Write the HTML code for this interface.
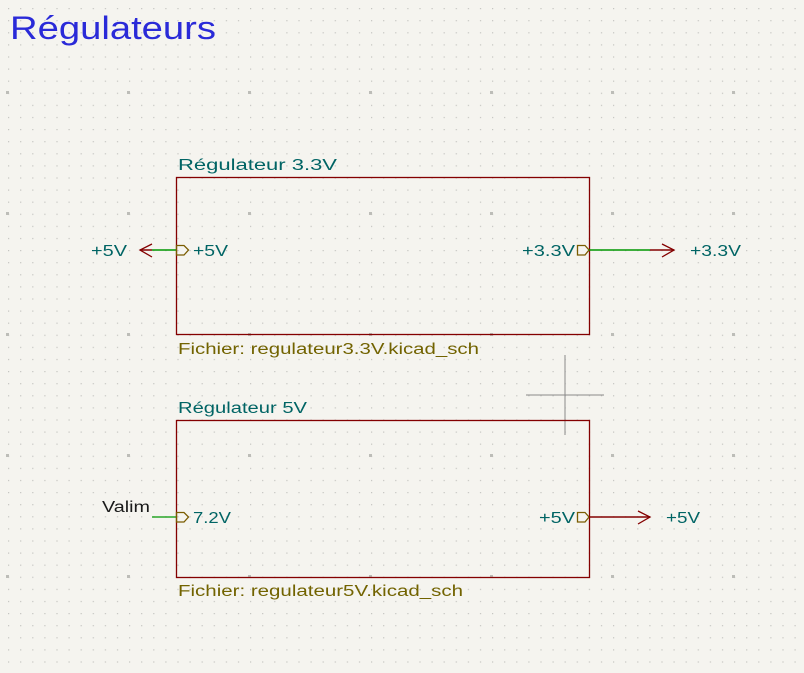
<!DOCTYPE html>
<html><head><meta charset="utf-8"><style>
html,body{margin:0;padding:0;background:#f5f4ef}
svg{display:block}
text{font-family:"Liberation Sans","DejaVu Sans",sans-serif}
</style></head><body>
<svg width="804" height="673" viewBox="0 0 804 673" xmlns="http://www.w3.org/2000/svg">
<defs>
<pattern id="g" x="8" y="8" width="12.1" height="12.1" patternUnits="userSpaceOnUse">
<rect x="0" y="0" width="1.2" height="1.2" fill="#c4c4c0"/>
</pattern>
</defs>
<rect width="804" height="673" fill="#f5f4ef"/>
<rect width="804" height="673" fill="url(#g)"/>
<g fill="#bdbdb8">
<rect x="127" y="212" width="3" height="3"/><rect x="248" y="212" width="3" height="3"/><rect x="369" y="212" width="3" height="3"/><rect x="490" y="212" width="3" height="3"/><rect x="611" y="212" width="3" height="3"/><rect x="732" y="212" width="3" height="3"/><rect x="6" y="212" width="3" height="3"/>
<rect x="127" y="454" width="3" height="3"/><rect x="248" y="454" width="3" height="3"/><rect x="369" y="454" width="3" height="3"/><rect x="490" y="454" width="3" height="3"/><rect x="611" y="454" width="3" height="3"/><rect x="732" y="454" width="3" height="3"/><rect x="6" y="454" width="3" height="3"/>
<rect x="127" y="91" width="3" height="3"/><rect x="248" y="91" width="3" height="3"/><rect x="369" y="91" width="3" height="3"/><rect x="490" y="91" width="3" height="3"/><rect x="611" y="91" width="3" height="3"/><rect x="732" y="91" width="3" height="3"/><rect x="6" y="91" width="3" height="3"/>
<rect x="127" y="333" width="3" height="3"/><rect x="248" y="333" width="3" height="3"/><rect x="369" y="333" width="3" height="3"/><rect x="490" y="333" width="3" height="3"/><rect x="611" y="333" width="3" height="3"/><rect x="732" y="333" width="3" height="3"/><rect x="6" y="333" width="3" height="3"/>
<rect x="127" y="575" width="3" height="3"/><rect x="248" y="575" width="3" height="3"/><rect x="369" y="575" width="3" height="3"/><rect x="490" y="575" width="3" height="3"/><rect x="611" y="575" width="3" height="3"/><rect x="732" y="575" width="3" height="3"/><rect x="6" y="575" width="3" height="3"/>
</g>

<text x="10" y="39" font-size="32" fill="#2a2ad8" textLength="206" lengthAdjust="spacingAndGlyphs">Régulateurs</text>

<!-- Sheet 1 -->
<text x="178" y="170" font-size="15.5" fill="#006464" textLength="159" lengthAdjust="spacingAndGlyphs">Régulateur 3.3V</text>
<rect x="176.5" y="177.5" width="413" height="157" fill="none" stroke="#840000" stroke-width="1.3"/>
<text x="178" y="354" font-size="15.5" fill="#726300" textLength="301" lengthAdjust="spacingAndGlyphs">Fichier: regulateur3.3V.kicad_sch</text>

<line x1="152" y1="250" x2="176" y2="250" stroke="#009600" stroke-width="1.5"/>
<line x1="140" y1="250" x2="152" y2="250" stroke="#840000" stroke-width="1.5"/>
<polyline points="152,244 140,250 152,257" fill="none" stroke="#840000" stroke-width="1.3"/>
<text x="91" y="256" font-size="15.5" fill="#006464" textLength="36" lengthAdjust="spacingAndGlyphs">+5V</text>
<polygon points="176.5,245.5 184,245.5 188.5,250 184,255 176.5,255" fill="none" stroke="#7a5c00" stroke-width="1.3"/>
<text x="193" y="256" font-size="15.5" fill="#006464" textLength="35" lengthAdjust="spacingAndGlyphs">+5V</text>

<polygon points="577.5,245.5 585,245.5 589,250 585,255 577.5,255" fill="none" stroke="#7a5c00" stroke-width="1.3"/>
<text x="522" y="256" font-size="15.5" fill="#006464" textLength="53" lengthAdjust="spacingAndGlyphs">+3.3V</text>
<line x1="589" y1="250" x2="650" y2="250" stroke="#009600" stroke-width="1.5"/>
<line x1="650" y1="250" x2="674" y2="250" stroke="#840000" stroke-width="1.5"/>
<polyline points="662,244 674,250 662,257" fill="none" stroke="#840000" stroke-width="1.3"/>
<text x="690" y="256" font-size="15.5" fill="#006464" textLength="51" lengthAdjust="spacingAndGlyphs">+3.3V</text>

<!-- cross -->
<line x1="526" y1="395" x2="604" y2="395" stroke="#8a8a8a" stroke-width="1"/>
<line x1="565" y1="355" x2="565" y2="435" stroke="#8a8a8a" stroke-width="1"/>

<!-- Sheet 2 -->
<text x="178" y="413" font-size="15.5" fill="#006464" textLength="129" lengthAdjust="spacingAndGlyphs">Régulateur 5V</text>
<rect x="176.5" y="420.5" width="413" height="157" fill="none" stroke="#840000" stroke-width="1.3"/>
<text x="178" y="596" font-size="15.5" fill="#726300" textLength="285" lengthAdjust="spacingAndGlyphs">Fichier: regulateur5V.kicad_sch</text>

<text x="102" y="512" font-size="15.5" fill="#1a1a1a" textLength="48" lengthAdjust="spacingAndGlyphs">Valim</text>
<line x1="152" y1="517" x2="176" y2="517" stroke="#009600" stroke-width="1.3"/>
<polygon points="176.5,512.5 184,512.5 188.5,517 184,522 176.5,522" fill="none" stroke="#7a5c00" stroke-width="1.3"/>
<text x="193" y="523" font-size="15.5" fill="#006464" textLength="38" lengthAdjust="spacingAndGlyphs">7.2V</text>

<polygon points="577.5,512.5 585,512.5 589,517 585,522 577.5,522" fill="none" stroke="#7a5c00" stroke-width="1.3"/>
<text x="539" y="523" font-size="15.5" fill="#006464" textLength="36" lengthAdjust="spacingAndGlyphs">+5V</text>
<line x1="589" y1="517" x2="650" y2="517" stroke="#840000" stroke-width="1.5"/>
<polyline points="638,511 650,517 638,524" fill="none" stroke="#840000" stroke-width="1.3"/>
<text x="666" y="523" font-size="15.5" fill="#006464" textLength="34" lengthAdjust="spacingAndGlyphs">+5V</text>
</svg>
</body></html>
